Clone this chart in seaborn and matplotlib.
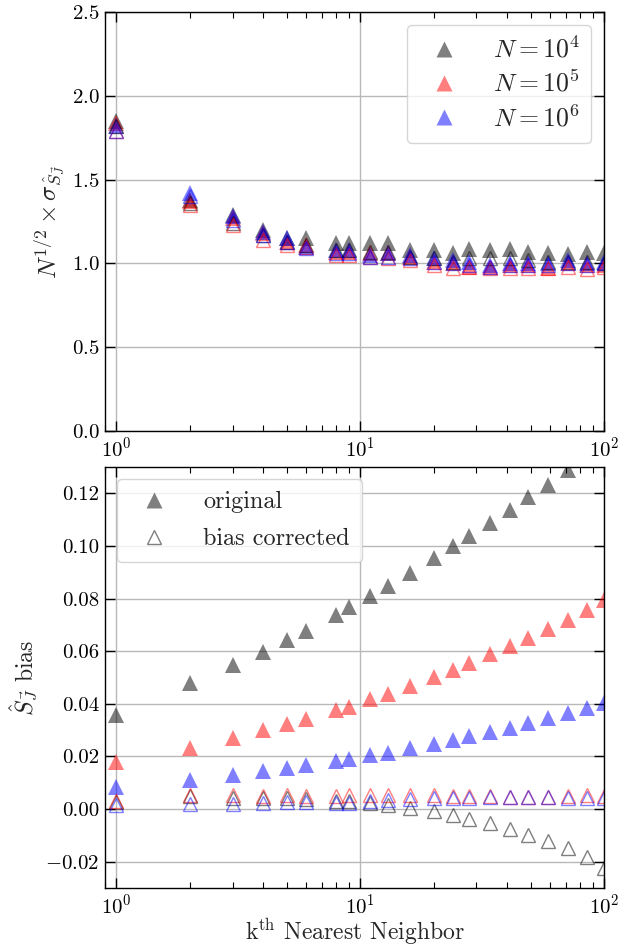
import matplotlib
matplotlib.use("Agg")
import matplotlib.pyplot as plt
import seaborn as sns
from matplotlib.lines import Line2D
from matplotlib.ticker import LogLocator, NullFormatter

# k-th nearest neighbour index
k = [1, 2, 3, 4, 5, 6, 8, 9, 11, 13, 16, 20, 24, 28, 34, 41, 49, 59, 71, 85, 100]

# scaled standard deviation, original estimator
std_n4 = [1.85, 1.38, 1.29, 1.20, 1.15, 1.15, 1.12, 1.12, 1.12, 1.12, 1.08,
          1.08, 1.06, 1.085, 1.08, 1.085, 1.07, 1.065, 1.055, 1.07, 1.06]
std_n5 = [1.84, 1.37, 1.27, 1.18, 1.13, 1.11, 1.07, 1.07, 1.06, 1.06, 1.04,
          1.01, 1.00, 0.98, 0.98, 0.99, 0.99, 0.975, 1.00, 0.99, 0.99]
std_n6 = [1.82, 1.42, 1.28, 1.19, 1.15, 1.10, 1.08, 1.08, 1.05, 1.065, 1.05,
          1.03, 1.02, 1.01, 0.99, 1.00, 1.00, 1.00, 1.02, 1.005, 1.01]
# scaled standard deviation, bias-corrected estimator
std_n4_bc = [1.82, 1.36, 1.24, 1.17, 1.13, 1.11, 1.08, 1.08, 1.07, 1.07, 1.04,
             1.03, 1.01, 1.03, 1.03, 1.03, 1.02, 1.01, 1.01, 1.01, 1.00]
std_n5_bc = [1.79, 1.35, 1.23, 1.14, 1.11, 1.10, 1.05, 1.05, 1.04, 1.03, 1.02,
             0.99, 0.975, 0.98, 0.97, 0.975, 0.975, 0.97, 0.98, 0.965, 0.98]
std_n6_bc = [1.79, 1.40, 1.26, 1.17, 1.13, 1.09, 1.06, 1.06, 1.04, 1.04, 1.03,
             1.01, 1.00, 0.99, 0.98, 0.99, 0.99, 0.99, 1.00, 0.99, 1.00]

# bias, original estimator
bias_n4 = [0.0358, 0.0478, 0.0548, 0.0598, 0.0643, 0.0678, 0.0738, 0.0768,
           0.0808, 0.0848, 0.0898, 0.0953, 0.0998, 0.1038, 0.1088, 0.1138,
           0.1188, 0.1233, 0.1288, 0.1338, 0.1388]
bias_n5 = [0.0178, 0.0234, 0.0272, 0.0301, 0.0323, 0.0344, 0.0378, 0.0388,
           0.0418, 0.0438, 0.0468, 0.0502, 0.0528, 0.0556, 0.0588, 0.0620,
           0.0652, 0.0684, 0.0718, 0.0757, 0.0795]
bias_n6 = [0.0085, 0.0111, 0.0130, 0.0143, 0.0156, 0.0167, 0.0182, 0.0190,
           0.0205, 0.0215, 0.0231, 0.0247, 0.0262, 0.0276, 0.0294, 0.0310,
           0.0329, 0.0346, 0.0367, 0.0386, 0.0403]
# bias, bias-corrected estimator
bias_n4_bc = [0.0028, 0.0048, 0.0044, 0.0042, 0.0041, 0.0040, 0.0030, 0.0030,
              0.0025, 0.0016, 0.0003, -0.0009, -0.0022, -0.0038, -0.0054,
              -0.0076, -0.0098, -0.0123, -0.0149, -0.0183, -0.0225]
bias_n5_bc = [0.0030, 0.0052, 0.0052, 0.0051, 0.0052, 0.0050, 0.0051, 0.0052,
              0.0053, 0.0052, 0.0053, 0.0052, 0.0051, 0.0050, 0.0048, 0.0046,
              0.0045, 0.0045, 0.0049, 0.0052, 0.0051]
bias_n6_bc = [0.0016, 0.0019, 0.0020, 0.0024, 0.0026, 0.0026, 0.0024, 0.0024,
              0.0032, 0.0036, 0.0040, 0.0042, 0.0042, 0.0042, 0.0045, 0.0045,
              0.0045, 0.0045, 0.0042, 0.0043, 0.0042]

labels = [r"$N=10^4$", r"$N=10^5$", r"$N=10^6$"]
colors = ["#000000", "#ff0000", "#0000ff"]

sns.set_theme(style="white")
plt.rcParams.update({
    "font.family": "serif",
    "font.serif": ["cmr10"],
    "mathtext.fontset": "cm",
    "axes.formatter.use_mathtext": True,
    "axes.unicode_minus": True,
    "axes.edgecolor": "black",
    "axes.linewidth": 1.0,
    "xtick.direction": "in",
    "ytick.direction": "in",
    "xtick.top": True,
    "ytick.right": True,
    "xtick.bottom": True,
    "ytick.left": True,
    "xtick.color": "black",
    "ytick.color": "black",
    "xtick.labelsize": 15,
    "ytick.labelsize": 15,
    "xtick.major.size": 7,
    "ytick.major.size": 7,
    "xtick.minor.size": 4,
    "xtick.major.width": 1.0,
    "ytick.major.width": 1.0,
    "xtick.minor.width": 0.8,
    "xtick.major.pad": 4,
    "ytick.major.pad": 4,
})

fig = plt.figure(figsize=(6.19, 9.46), dpi=100)
ax1 = fig.add_axes([0.1696, 0.5444, 0.8062, 0.4429])
ax2 = fig.add_axes([0.1696, 0.0613, 0.8062, 0.4450])

MS_FILLED = 11
MS_OPEN = 10.5


def draw(ax, y, color, filled):
    if filled:
        kws = dict(ms=MS_FILLED, mec="none", mew=0)
    else:
        kws = dict(ms=MS_OPEN, mfc="none", mec=color, mew=1.0)
    sns.lineplot(x=k, y=y, ax=ax, marker="^", linestyle="", color=color,
                 alpha=0.5, estimator=None, legend=False, **kws)


for y, c in zip([std_n4, std_n5, std_n6], colors):
    draw(ax1, y, c, True)
for y, c in zip([std_n4_bc, std_n5_bc, std_n6_bc], colors):
    draw(ax1, y, c, False)
for y, c in zip([bias_n4, bias_n5, bias_n6], colors):
    draw(ax2, y, c, True)
for y, c in zip([bias_n4_bc, bias_n5_bc, bias_n6_bc], colors):
    draw(ax2, y, c, False)

for ax in (ax1, ax2):
    ax.set_xscale("log")
    ax.set_xlim(0.9, 100)
    ax.xaxis.set_major_locator(LogLocator(base=10, numticks=10))
    ax.xaxis.set_minor_locator(LogLocator(base=10, subs=range(2, 10), numticks=10))
    ax.xaxis.set_minor_formatter(NullFormatter())
    ax.grid(True, which="major", color="#b8b8b8", linewidth=1.0)
    ax.set_axisbelow(True)
    for s in ax.spines.values():
        s.set_color("black")
        s.set_linewidth(1.0)

ax1.set_ylim(0, 2.5)
ax1.set_yticks([0.0, 0.5, 1.0, 1.5, 2.0, 2.5])
ax1.set_ylabel(r"$N^{1/2} \times \sigma_{\hat{S}_{\vec{J}}}$", fontsize=18)

ax2.set_ylim(-0.03, 0.13)
ax2.set_yticks([-0.02, 0.0, 0.02, 0.04, 0.06, 0.08, 0.10, 0.12])
ax2.set_yticklabels(["$-0.02$", "0.00", "0.02", "0.04", "0.06", "0.08",
                     "0.10", "0.12"])
ax2.set_ylabel(r"$\hat{S}_{\vec{J}}$ bias", fontsize=17)
ax2.set_xlabel(r"k$^{\rm th}$ Nearest Neighbor", fontsize=17, labelpad=-1)

h_n = [Line2D([], [], marker="^", linestyle="", color=c, alpha=0.5,
              ms=MS_FILLED, mec="none") for c in colors]
ax1.legend(h_n, labels, loc="upper right", fontsize=18.5,
           handletextpad=0.9, labelspacing=0.3, borderpad=0.45,
           frameon=True, fancybox=True, framealpha=0.8, edgecolor="#cccccc")

h_e = [Line2D([], [], marker="^", linestyle="", color="#000000", alpha=0.5,
              ms=MS_FILLED, mec="none"),
       Line2D([], [], marker="^", linestyle="", color="#000000", alpha=0.5,
              ms=MS_OPEN, mfc="none", mec="#000000", mew=1.0)]
ax2.legend(h_e, ["original", "bias corrected"], loc="upper left",
           fontsize=17.5, handletextpad=1.05, labelspacing=0.6,
           borderpad=0.5, frameon=True, fancybox=True, framealpha=0.8,
           edgecolor="#cccccc")

fig.savefig("out.png", dpi=100)
